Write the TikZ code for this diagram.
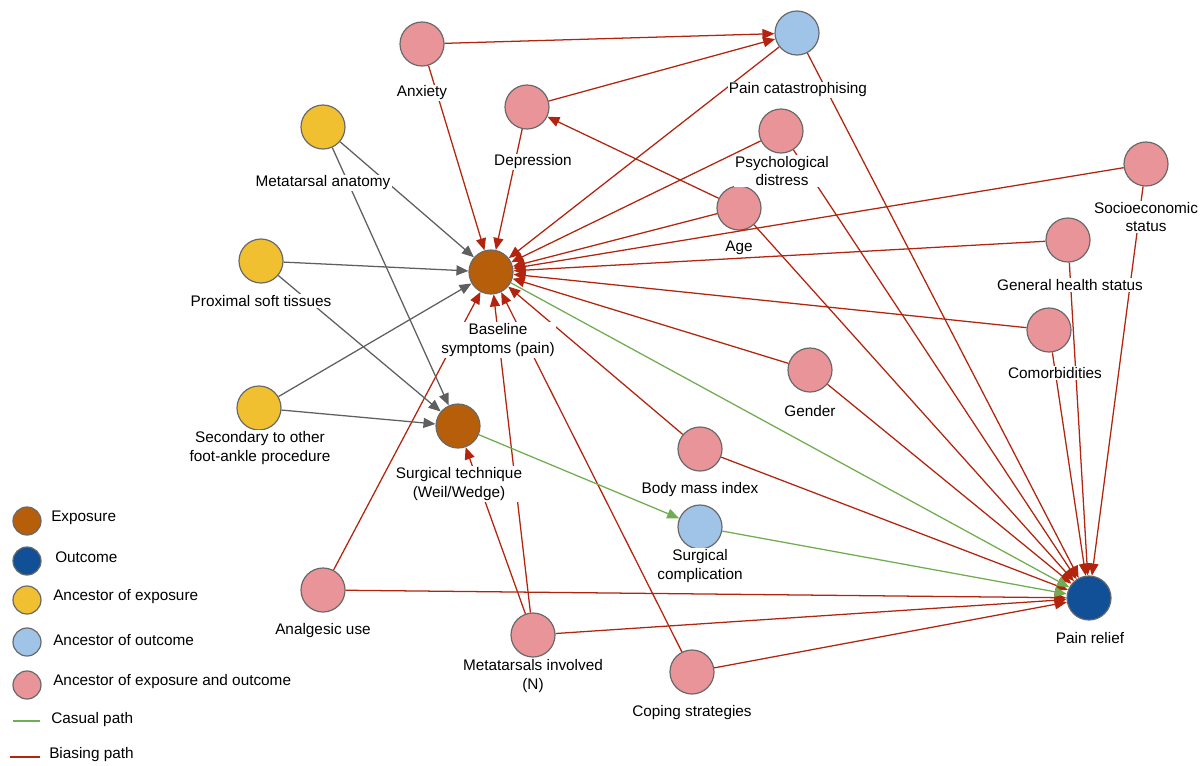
\documentclass[tikz,border=0pt]{standalone}
\usepackage{fontspec}
\setmainfont{Liberation Sans}
\usetikzlibrary{arrows.meta}

\definecolor{exposure}{RGB}{183,94,10}
\definecolor{outcome}{RGB}{17,80,150}
\definecolor{ancexp}{RGB}{240,192,48}
\definecolor{ancout}{RGB}{160,196,232}
\definecolor{ancboth}{RGB}{232,148,152}
\definecolor{rim}{RGB}{105,105,105}
\definecolor{biasred}{RGB}{178,36,14}
\definecolor{causgreen}{RGB}{112,172,80}
\definecolor{ancgray}{RGB}{95,95,95}

\tikzset{
  var/.style={circle, draw=rim, line width=0.9pt, minimum size=33pt, inner sep=0pt},
  keydot/.style={var, minimum size=21pt},
  lab/.style={fill=white, inner sep=1pt, align=center, font=\fontsize{11.5}{14.2}\selectfont},
  keytext/.style={anchor=west, inner sep=0pt, font=\fontsize{11.5}{14.2}\selectfont},
  tip/.style={-{Triangle[length=9pt,width=7.5pt]}},
  bias/.style={biasred, line width=0.95pt, tip},
  anc/.style={ancgray, line width=0.95pt, tip},
  caus/.style={causgreen, line width=0.95pt, tip}
}

\begin{document}
\begin{tikzpicture} [x=0.75pt, y=-0.75pt]
\useasboundingbox (0,0) rectangle (1201,765);

\node[var, fill=exposure] (base) at (491,272) {};
\node[var, fill=exposure] (tech) at (458,426) {};
\node[var, fill=outcome] (rel) at (1089,598) {};
\node[var, fill=ancout] (cat) at (797,33) {};
\node[var, fill=ancout] (comp) at (700,527) {};
\foreach \n/\x/\y in {anat/323/127, prox/261/261, sec/259/408}
  \node[var, fill=ancexp] (\n) at (\x,\y) {};
\foreach \n/\x/\y in {anx/422/44, dep/527/107, psy/781/131, age/739/208, ses/1146/164,
    ghs/1068/240, com/1049/330, gen/810/370, bmi/700/449, cop/692/672, met/533/635, ana/323/590}
  \node[var, fill=ancboth] (\n) at (\x,\y) {};

\foreach \a/\b in {anx/base, anx/cat, dep/base, dep/cat, psy/base, psy/rel, age/dep, age/base, age/rel,
    ses/base, ses/rel, ghs/base, ghs/rel, com/base, com/rel, gen/base, gen/rel, bmi/base, bmi/rel,
    ana/base, ana/rel, met/base, met/tech, met/rel, cop/base, cop/rel, cat/rel}
  \draw[bias] (\a) -- (\b);
\draw[bias, {Triangle[length=9pt,width=7.5pt]}-] (base) -- (cat);
\foreach \a/\b in {anat/base, anat/tech, prox/base, prox/tech, sec/base, sec/tech}
  \draw[anc] (\a) -- (\b);
\foreach \a/\b in {base/rel, tech/comp, comp/rel}
  \draw[caus] (\a) -- (\b);

\node[lab] (anx-l) at (422,93) {Anxiety};
\node[lab] (cat-l) at (798,90) {Pain catastrophising};
\node[lab] (dep-l) at (533,162) {Depression};
\node[lab] (psy-l) at (782,171) {Psychological\\distress};
\node[lab] (age-l) at (739,248) {Age};
\node[lab] (anat-l) at (323,183) {Metatarsal anatomy};
\node[lab] (ses-l) at (1146,217) {Socioeconomic\\status};
\node[lab] (ghs-l) at (1070,285) {General health status};
\node[lab] (prox-l) at (261,301) {Proximal soft tissues};
\node[lab] (base-l) at (498,340) {Baseline\\symptoms (pain)};
\node[lab] (com-l) at (1055,373) {Comorbidities};
\node[lab] (gen-l) at (810,411) {Gender};
\node[lab] (sec-l) at (260,448) {Secondary to other\\foot-ankle procedure};
\node[lab] (tech-l) at (459,484) {Surgical technique\\(Weil/Wedge)};
\node[lab] (bmi-l) at (700,490) {Body mass index};
\node[lab] (comp-l) at (700,566) {Surgical\\complication};
\node[lab] (ana-l) at (323,631) {Analgesic use};
\node[lab] (rel-l) at (1090,638) {Pain relief};
\node[lab] (met-l) at (533,676) {Metatarsals involved\\(N)};
\node[lab] (cop-l) at (692,713) {Coping strategies};

\node[keydot, fill=exposure] (key-exp) at (27,521) {};
\node[keydot, fill=outcome] (key-out) at (27,561) {};
\node[keydot, fill=ancexp] (key-ancexp) at (27,600) {};
\node[keydot, fill=ancout] (key-ancout) at (27,642) {};
\node[keydot, fill=ancboth] (key-both) at (27,685) {};
\node[keytext] (key-exp-t) at (51,518) {Exposure};
\node[keytext] (key-out-t) at (55,557) {Outcome};
\node[keytext] (key-ancexp-t) at (53,597) {Ancestor of exposure};
\node[keytext] (key-ancout-t) at (53,640) {Ancestor of outcome};
\node[keytext] (key-both-t) at (53,682) {Ancestor of exposure and outcome};
\coordinate (cas1) at (13,721);
\coordinate (cas2) at (40,721);
\coordinate (bia1) at (10,757);
\coordinate (bia2) at (40,757);
\draw[causgreen, line width=0.8pt] (cas1) -- (cas2);
\draw[biasred, line width=0.9pt] (bia1) -- (bia2);
\node[keytext] (key-cas-t) at (51,720) {Casual path};
\node[keytext] (key-bia-t) at (49,755) {Biasing path};
\end{tikzpicture}
\end{document}
